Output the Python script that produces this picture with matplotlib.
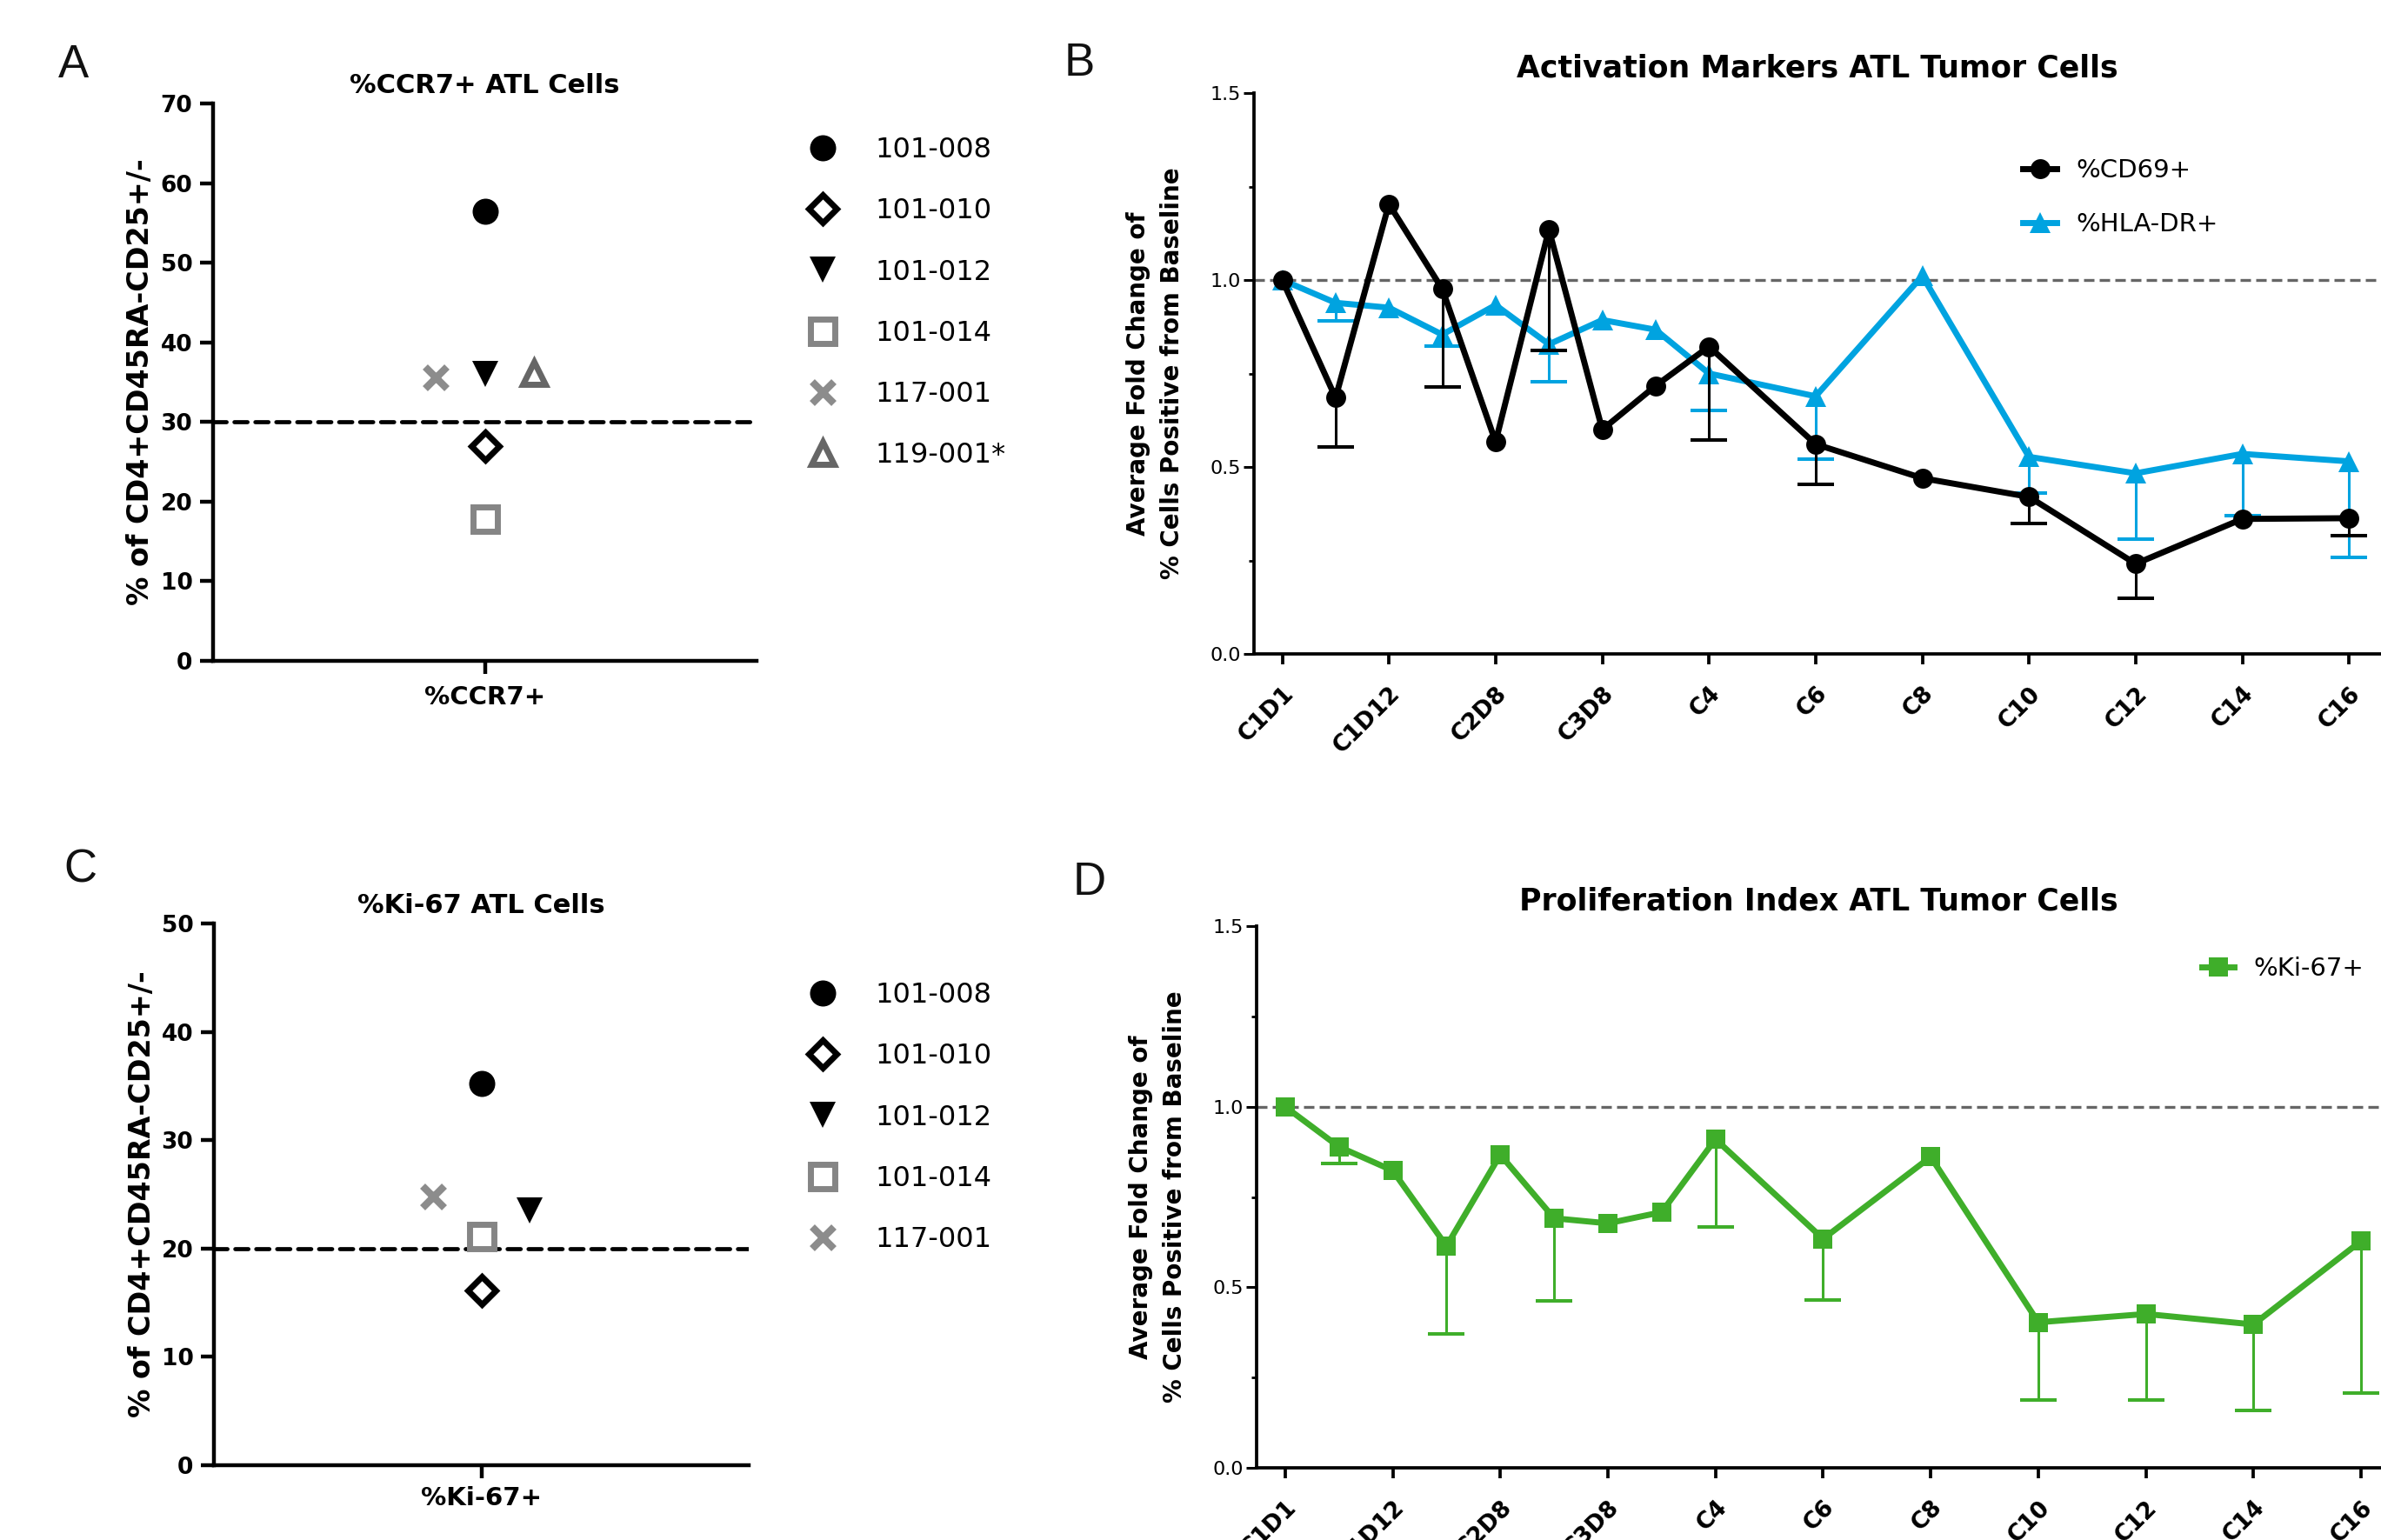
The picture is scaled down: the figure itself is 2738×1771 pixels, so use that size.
import matplotlib
matplotlib.use("Agg")
import matplotlib.pyplot as plt
import numpy as np

plt.rcParams["font.family"] = "DejaVu Sans"

# --- panels A / C: one value per patient ---
ccr7_patients = ["101-008", "101-010", "101-012", "101-014", "117-001", "119-001*"]
ccr7_values = [56.5, 27.0, 36.0, 17.8, 35.6, 36.2]
ccr7_xpos = [0, 0, 0, 0, -0.18, 0.18]
ccr7_cutoff = 30

ki67_patients = ["101-008", "101-010", "101-012", "101-014", "117-001"]
ki67_values = [35.2, 16.1, 23.5, 21.1, 24.8]
ki67_xpos = [0, 0, 0.18, 0, -0.18]
ki67_cutoff = 20

# --- panels B / D: fold change from baseline over visits ---
visit_pos = [0, 1, 2, 3, 4, 5, 6, 7, 8, 10, 12, 14, 16, 18, 20]
tick_pos = [0, 2, 4, 6, 8, 10, 12, 14, 16, 18, 20]
tick_labels = ["C1D1", "C1D12", "C2D8", "C3D8", "C4", "C6", "C8",
               "C10", "C12", "C14", "C16"]

cd69 = [1.00, 0.685, 1.203, 0.976, 0.567, 1.135, 0.600, 0.717, 0.822,
        0.561, 0.470, 0.420, 0.241, 0.361, 0.363]
cd69_err = [0, 0.132, 0, 0.261, 0, 0.324, 0, 0, 0.249,
            0.107, 0, 0.070, 0.091, 0, 0.046]

hladr = [1.00, 0.939, 0.926, 0.854, 0.933, 0.828, 0.893, 0.867, 0.750,
         0.689, 1.011, 0.527, 0.483, 0.535, 0.515]
hladr_err = [0, 0.048, 0, 0.030, 0, 0.100, 0, 0, 0.098,
             0.167, 0, 0.097, 0.176, 0.165, 0.258]

ki67_fold = [1.00, 0.889, 0.823, 0.614, 0.867, 0.691, 0.677, 0.708, 0.910,
             0.634, 0.861, 0.403, 0.426, 0.397, 0.628]
ki67_fold_err = [0, 0.047, 0, 0.243, 0, 0.228, 0, 0, 0.244,
                 0.169, 0, 0.216, 0.237, 0.237, 0.420]

BLUE = "#00a3e0"
GREEN = "#3fae2a"

W, H = 2738, 1771
fig = plt.figure(figsize=(W / 100, H / 100), dpi=100)


def axes_px(left, top, right, bottom):
    return fig.add_axes([left / W, 1 - bottom / H, (right - left) / W, (bottom - top) / H])


patient_styles = [
    dict(marker="o", ms=21.6, mfc="black", mec="black", mew=0),
    dict(marker="D", ms=16, mfc="white", mec="black", mew=5),
    dict(marker="v", ms=21.6, mfc="black", mec="black", mew=0),
    dict(marker="s", ms=20, mfc="white", mec="#858585", mew=5),
    dict(marker="x", ms=18, mec="#8c8c8c", mew=6),
    dict(marker="^", ms=19, mfc="white", mec="#666666", mew=5),
]


def scatter_panel(ax, names, values, xpos, cutoff, ymax, title, cat_label,
                  legend_top, title_pad, label_pad):
    ax.axhline(cutoff, color="black", lw=3.4, ls=(0, (3.2, 1.9)),
               dash_capstyle="round", zorder=1)
    handles = []
    for name, v, x, st in zip(names, values, xpos, patient_styles):
        h, = ax.plot([x], [v], ls="none", label=name, zorder=3, clip_on=False, **st)
        handles.append(h)
    ax.set_xlim(-1, 1)
    ax.set_ylim(0, ymax)
    yt = list(range(0, ymax + 1, 10))
    ax.set_yticks(yt, labels=[str(t) for t in yt], fontsize=19, fontweight="bold")
    ax.set_xticks([0], labels=[cat_label], fontsize=21, fontweight="bold")
    for s in ["top", "right"]:
        ax.spines[s].set_visible(False)
    for s in ["left", "bottom"]:
        ax.spines[s].set_linewidth(3.2)
    ax.tick_params(axis="y", width=3.2, length=11, pad=6)
    ax.tick_params(axis="x", width=3.2, length=11, pad=label_pad)
    ax.set_title(title, fontsize=22, fontweight="bold", pad=title_pad)
    ax.set_ylabel("% of CD4+CD45RA-CD25+/-", fontsize=24, fontweight="bold")
    ax.yaxis.set_label_coords(-0.108, 0.5)
    ax.legend(handles=handles, loc="upper left",
              bbox_to_anchor=(930 / W, 1 - legend_top / H),
              bbox_transform=fig.transFigure, frameon=False, fontsize=23,
              borderpad=0, borderaxespad=0, handlelength=1.0,
              handletextpad=1.38, labelspacing=1.23, numpoints=1)


def down_errors(ax, x, y, err, color, z):
    x, y, err = np.asarray(x), np.asarray(y), np.asarray(err)
    m = err > 0
    eb = ax.errorbar(x[m], y[m], yerr=[err[m], np.zeros(m.sum())], fmt="none",
                     ecolor=color, elinewidth=2.2, capsize=15, capthick=2.9,
                     zorder=z)
    eb[1][1].set_visible(False)


def time_axes(ax, title, xmax):
    ax.axhline(1.0, color="#666666", lw=2.4, ls=(0, (3.6, 1.8)), zorder=1)
    ax.set_xlim(-0.53, xmax)
    ax.set_ylim(0, 1.5)
    ax.set_yticks([0, 0.5, 1.0, 1.5], labels=["0.0", "0.5", "1.0", "1.5"],
                  fontsize=16)
    ax.set_yticks([0.25, 0.75, 1.25], minor=True)
    ax.set_xticks(tick_pos, labels=tick_labels, rotation=45,
                  rotation_mode="anchor", ha="right", va="top",
                  fontsize=19, fontweight="bold")
    for s in ["top", "right"]:
        ax.spines[s].set_visible(False)
    for s in ["left", "bottom"]:
        ax.spines[s].set_linewidth(2.7)
    ax.tick_params(axis="y", which="major", width=2.2, length=8.5, pad=2)
    ax.tick_params(axis="y", which="minor", width=2.0, length=4)
    ax.tick_params(axis="x", width=2.7, length=8.5, pad=15)
    ax.set_title(title, fontsize=25, fontweight="bold", pad=13)
    ax.set_ylabel("Average Fold Change of\n% Cells Positive from Baseline",
                  fontsize=20, fontweight="bold", linespacing=1.5)
    ax.yaxis.set_label_coords(-0.062, 0.5)


# ---------------- A ----------------
axA = axes_px(245, 119, 870, 760)
scatter_panel(axA, ccr7_patients, ccr7_values, ccr7_xpos, ccr7_cutoff, 70,
              "%CCR7+ ATL Cells", "%CCR7+", 157, 8.6, 9)

# ---------------- C ----------------
axC = axes_px(246, 1062, 861, 1685)
scatter_panel(axC, ki67_patients, ki67_values, ki67_xpos, ki67_cutoff, 50,
              "%Ki-67 ATL Cells", "%Ki-67+", 1129, 8.6, 6)

# ---------------- B ----------------
axB = axes_px(1442, 107, W, 752)
time_axes(axB, "Activation Markers ATL Tumor Cells", 20.6)
down_errors(axB, visit_pos, hladr, hladr_err, BLUE, 2)
hB2, = axB.plot(visit_pos, hladr, color=BLUE, lw=5, marker="^", ms=17,
                mew=0, label="%HLA-DR+", zorder=3, clip_on=False)
down_errors(axB, visit_pos, cd69, cd69_err, "black", 4)
hB1, = axB.plot(visit_pos, cd69, color="black", lw=5, marker="o", ms=16.5,
                mew=0, label="%CD69+", zorder=5, clip_on=False)
axB.legend(handles=[hB1, hB2], loc="upper left",
           bbox_to_anchor=(2326 / W, 1 - 182 / H), bbox_transform=fig.transFigure,
           frameon=False, borderpad=0, borderaxespad=0,
           handlelength=1.34, handletextpad=0.75, labelspacing=1.18,
           prop=dict(size=21, weight="normal"))

# ---------------- D ----------------
axD = axes_px(1445, 1065, W, 1688)
time_axes(axD, "Proliferation Index ATL Tumor Cells", 20.37)
down_errors(axD, visit_pos, ki67_fold, ki67_fold_err, GREEN, 2)
hD, = axD.plot(visit_pos, ki67_fold, color=GREEN, lw=5, marker="s", ms=16,
               mew=0, label="%Ki-67+", zorder=3, clip_on=False)
axD.legend(handles=[hD], loc="upper left",
           bbox_to_anchor=(2532 / W, 1 - 1100 / H), bbox_transform=fig.transFigure,
           frameon=False, borderpad=0, borderaxespad=0,
           handlelength=1.27, handletextpad=0.75,
           prop=dict(size=21, weight="normal"))

# panel letters
for letter, x, y in [("A", 67, 89), ("B", 1224, 87), ("C", 73, 1014), ("D", 1234, 1029)]:
    fig.text(x / W, 1 - y / H, letter, fontsize=38, family="Liberation Sans",
             ha="left", va="baseline", color="#111111")

fig.savefig("out.png", dpi=100)
